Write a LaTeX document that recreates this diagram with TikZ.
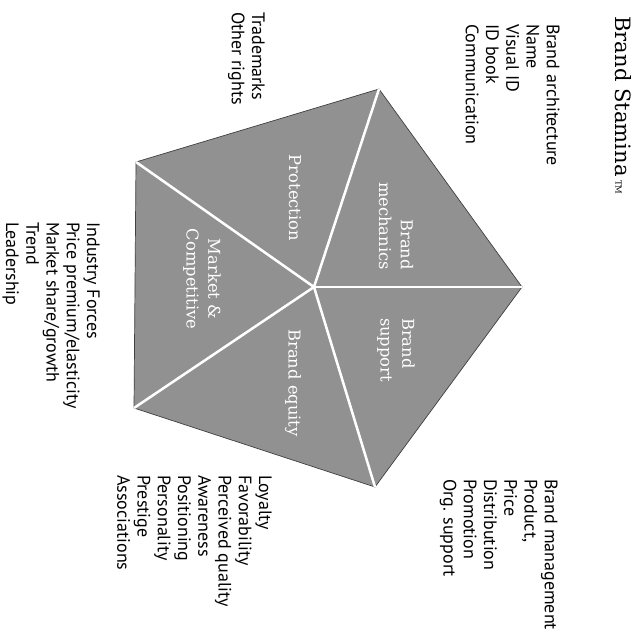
\documentclass[tikz,border=0pt]{standalone}
\usepackage{fontspec}
\setmainfont{PT Sans}
\newfontfamily\serifface{DejaVu Serif}
\usetikzlibrary{positioning}
\tikzset{
	listing/.style = {rotate = -90, anchor = north west, inner sep = 0mm, align = left,
		font = \fontsize{12.8}{14.4}\selectfont},
	sector label/.style = {rotate = -90, text = white, inner sep = 0mm,
		font = \serifface\fontsize{11.6}{15.5}\selectfont},
	title/.style = {rotate = -90, anchor = north west, inner sep = 0mm,
		font = \serifface\fontsize{15}{17}\selectfont},
	sector fill/.style = {fill = black!43, draw = black!75, line width = 0.5pt},
	spoke/.style = {white, line width = 1.8pt}
}

\begin{document}
\begin{tikzpicture}[x = 0.025cm, y = -0.025cm]
			\useasboundingbox (0, 0) rectangle (639, 640);

			% pentagon corners and hub
			\coordinate (c) at (314, 287);
			\coordinate (v1) at (379, 89);
			\coordinate (v2) at (136, 162);
			\coordinate (v3) at (134, 408);
			\coordinate (v4) at (375, 487);
			\coordinate (v5) at (522, 287);

			\filldraw [sector fill] (v1) -- (v2) -- (v3) -- (v4) -- (v5) -- cycle;
			\foreach\i in {1,...,5}{
				\draw [spoke] (c) -- (v\i);
			}

			\node [sector label, align = right] (mechanics) at (396, 226) {Brand\\mechanics};
			\node [sector label, align = left] (support) at (396, 350) {Brand\\support};
			\node [sector label] (protection) at (295, 198) {Protection};
			\node [sector label, align = center] (market) at (202, 279) {Market \&\\Competitive};
			\node [sector label] (equity) at (293, 383) {Brand equity};

			\node [title] (heading) at (632, 16) {Brand Stamina\,{\fontsize{6}{7}\selectfont TM}};

			\node [listing] (mechanics list) at (560, 24)
				{Brand architecture\\Name\\Visual ID\\ID book\\Communication};
			\node [listing] (protection list) at (265, 12)
				{Trademarks\\Other rights};
			\node [listing] (market list) at (100, 222)
				{Industry Forces\\Price premium/elasticity\\Market share/growth\\Trend\\Leadership};
			\node [listing] (equity list) at (272, 475)
				{Loyalty\\Favorability\\Perceived quality\\Awareness\\Positioning\\Personality\\Prestige\\Associations};
			\node [listing] (support list) at (558, 479)
				{Brand management\\Product,\\Price\\Distribution\\Promotion\\Org. support};
		\end{tikzpicture}
\end{document}
